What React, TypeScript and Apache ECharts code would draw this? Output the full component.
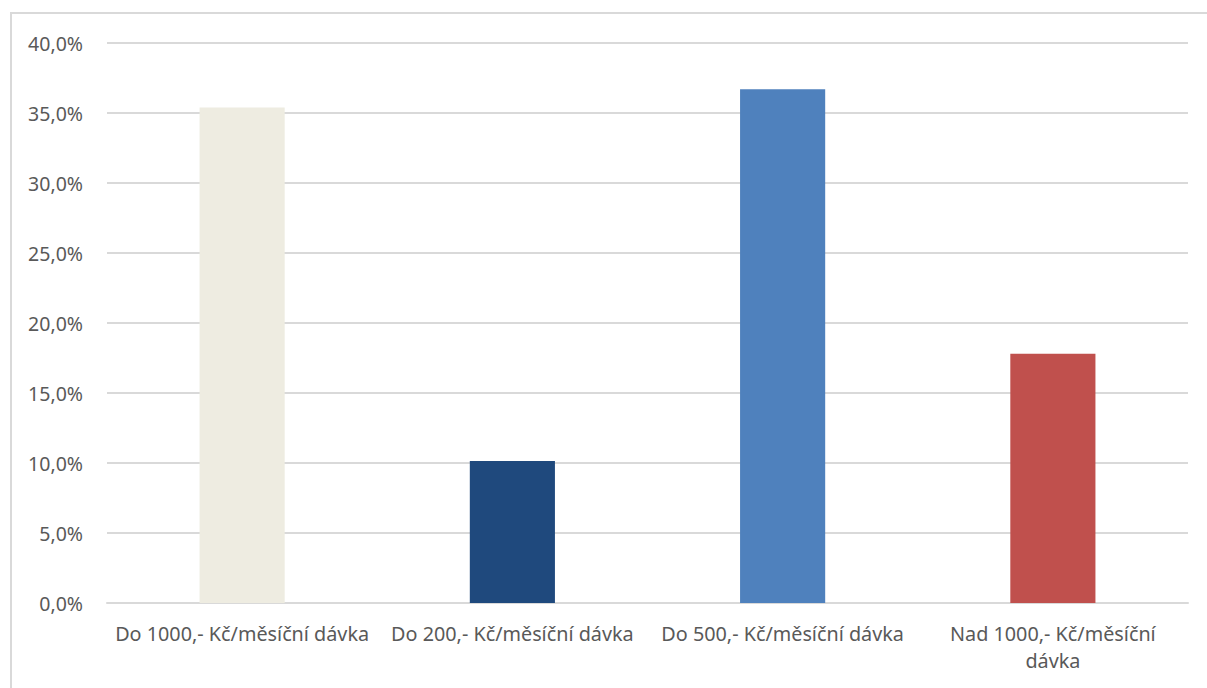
import React, { useEffect, useRef } from "react";
import * as echarts from "echarts";

const categories = [
  "Do 1000,- Kč/měsíční dávka",
  "Do 200,- Kč/měsíční dávka",
  "Do 500,- Kč/měsíční dávka",
  "Nad 1000,- Kč/měsíční dávka",
];
const values = [35.4, 10.15, 36.7, 17.8];
const barColors = ["#EEECE1", "#1F497D", "#4F81BD", "#C0504D"];
const yTicks = { min: 0, max: 40, interval: 5 };

const FONT = "'Noto Sans', 'Open Sans', sans-serif";

// wrap only labels too long for their category slot (as Excel does)
const wrapLabel = (s: string) => {
  if (s.length <= 26) return s;
  const i = s.lastIndexOf(" ");
  return s.slice(0, i) + "\n" + s.slice(i + 1);
};

export default function App() {
  const ref = useRef<HTMLDivElement>(null);
  useEffect(() => {
    if (!ref.current) return;
    const chart = echarts.init(ref.current, null, { renderer: "svg" });
    chart.setOption({
      animation: false,
      backgroundColor: "#ffffff",
      grid: { left: 107, right: 19, top: 43, bottom: 85, containLabel: false },
      graphic: [
        {
          type: "rect",
          shape: { x: 11, y: 13, width: 1400, height: 1000 },
          style: { fill: "none", stroke: "#d9d9d9", lineWidth: 2 },
          silent: true,
        },
      ],
      xAxis: {
        type: "category",
        data: categories,
        axisLine: { show: true, lineStyle: { color: "#d9d9d9", width: 2 } },
        axisTick: { show: false },
        axisLabel: {
          color: "#595959",
          fontFamily: FONT,
          fontSize: 19.8,
          margin: 17,
          lineHeight: 27,
          interval: 0,
          formatter: wrapLabel,
        },
      },
      yAxis: {
        type: "value",
        min: yTicks.min,
        max: yTicks.max,
        interval: yTicks.interval,
        axisLine: { show: false },
        axisTick: { show: false },
        splitLine: { lineStyle: { color: "#d9d9d9", width: 2 } },
        axisLabel: {
          color: "#595959",
          fontFamily: FONT,
          fontSize: 19.5,
          margin: 24,
          formatter: (v: number) => v.toFixed(1).replace(".", ",") + "%",
        },
      },
      series: [
        {
          type: "bar",
          data: values.map((v, i) => ({ value: v, itemStyle: { color: barColors[i] } })),
          barWidth: "31.5%",
        },
      ],
    });
    return () => chart.dispose();
  }, []);
  return (
    <div
      ref={ref}
      style={{ position: "fixed", left: 0, top: 0, width: 1207, height: 688, background: "#fff" }}
    />
  );
}
